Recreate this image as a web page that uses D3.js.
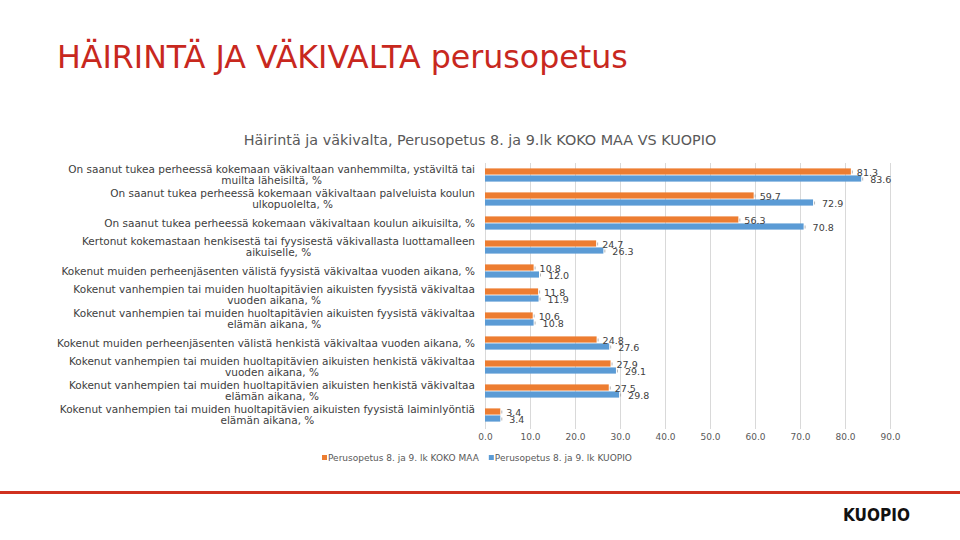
<!DOCTYPE html>
<html>
<head>
<meta charset="utf-8">
<script src="https://cdn.jsdelivr.net/npm/d3@7"></script>
<style>
  body { margin: 0; background: #fff; }
  svg { font-family: "DejaVu Sans", sans-serif; }
</style>
</head>
<body>
<div id="chart"></div>
<script>
var svgWidth = 960
var svgHeight = 540

// Category labels, split into lines as in the original
var categories = [
  ["On saanut tukea perheessä kokemaan väkivaltaan vanhemmilta, ystäviltä tai", "muilta läheisiltä, %"],
  ["On saanut tukea perheessä kokemaan väkivaltaan palveluista koulun", "ulkopuolelta, %"],
  ["On saanut tukea perheessä kokemaan väkivaltaan koulun aikuisilta, %"],
  ["Kertonut kokemastaan henkisestä tai fyysisestä väkivallasta luottamalleen", "aikuiselle, %"],
  ["Kokenut muiden perheenjäsenten välistä fyysistä väkivaltaa vuoden aikana, %"],
  ["Kokenut vanhempien tai muiden huoltapitävien aikuisten fyysistä väkivaltaa", "vuoden aikana, %"],
  ["Kokenut vanhempien tai muiden huoltapitävien aikuisten fyysistä väkivaltaa", "elämän aikana, %"],
  ["Kokenut muiden perheenjäsenten välistä henkistä väkivaltaa vuoden aikana, %"],
  ["Kokenut vanhempien tai muiden huoltapitävien aikuisten henkistä väkivaltaa", "vuoden aikana, %"],
  ["Kokenut vanhempien tai muiden huoltapitävien aikuisten henkistä väkivaltaa", "elämän aikana, %"],
  ["Kokenut vanhempien tai muiden huoltapitävien aikuisten fyysistä laiminlyöntiä", "elämän aikana, %"]
]

var seriesNames = ["Perusopetus 8. ja 9. lk KOKO MAA", "Perusopetus 8. ja 9. lk KUOPIO"]
var kokoMaa = [81.3, 59.7, 56.3, 24.7, 10.8, 11.8, 10.6, 24.8, 27.9, 27.5, 3.4]
var kuopio = [83.6, 72.9, 70.8, 26.3, 12.0, 11.9, 10.8, 27.6, 29.1, 29.8, 3.4]
var xTicks = [0, 10, 20, 30, 40, 50, 60, 70, 80, 90]

var colors = ["#ED7D31", "#5B9BD5"]

// Plot area
var margin = { top: 163, left: 485, right: 70, bottom: 113 }

var svg = d3.select("#chart")
    .append("svg")
    .attr("width", svgWidth)
    .attr("height", svgHeight)

// shrink / grow a text so it spans a given width
function fitWidth(sel, width) {
    var fs = +sel.attr("font-size")
    var w = sel.node().getComputedTextLength()
    sel.attr("font-size", fs * width / w)
}

// Slide title
var title = svg.append("text")
    .attr("x", 57)
    .attr("y", 68)
    .attr("fill", "#C8281E")
    .attr("font-size", 27)
    .text("HÄIRINTÄ JA VÄKIVALTA perusopetus")
fitWidth(title, 571)

// Chart title
var chartTitle = svg.append("text")
    .attr("x", 480)
    .attr("y", 145)
    .attr("text-anchor", "middle")
    .attr("fill", "#595959")
    .attr("font-size", 12)
    .text("Häirintä ja väkivalta, Perusopetus 8. ja 9.lk KOKO MAA VS KUOPIO")
fitWidth(chartTitle, 473)

var chartGroup = svg.append("g")
    .attr("transform", `translate(${margin.left}, ${margin.top})`)

var xScale = d3.scaleLinear()
    .domain([0, 90])
    .range([0, 405])

var yScale = d3.scaleBand()
    .domain(d3.range(categories.length))
    .range([0, 264])
    .paddingInner(0.45)
    .paddingOuter(0.225)

var ySub = d3.scaleBand()
    .domain([0, 1])
    .range([0, yScale.bandwidth()])
    .paddingInner(0.12)

// Gridlines
chartGroup.selectAll(".grid")
    .data(xTicks)
    .enter()
    .append("line")
    .attr("x1", d => xScale(d) + 0.5)
    .attr("x2", d => xScale(d) + 0.5)
    .attr("y1", 0)
    .attr("y2", 266)
    .attr("stroke", "#D9D9D9")
    .attr("stroke-width", 1)

// X axis tick labels
var xAxis = chartGroup.append("g")
    .attr("transform", "translate(0,266)")
    .call(d3.axisBottom(xScale).tickValues(xTicks).tickFormat(d3.format(".1f")).tickSize(0).tickPadding(5))
xAxis.select(".domain").remove()
xAxis.attr("font-family", null)
xAxis.selectAll("text")
    .attr("fill", "#595959")
    .attr("font-size", 9)

var rows = []
categories.forEach(function(c, i) {
    rows.push({ cat: i, s: 0, value: kokoMaa[i] })
    rows.push({ cat: i, s: 1, value: kuopio[i] })
})

// Bars
chartGroup.selectAll(".bar")
    .data(rows)
    .enter()
    .append("rect")
    .attr("x", 0)
    .attr("y", d => yScale(d.cat) + ySub(d.s))
    .attr("width", d => xScale(d.value))
    .attr("height", ySub.bandwidth())
    .attr("fill", d => colors[d.s])

// Small leader marks at bar ends
chartGroup.selectAll(".leader")
    .data(rows)
    .enter()
    .append("line")
    .attr("x1", d => xScale(d.value) + 1.5)
    .attr("x2", d => xScale(d.value) + 1.5)
    .attr("y1", d => yScale(d.cat) + ySub(d.s) + ySub.bandwidth() / 2 - 1)
    .attr("y2", d => yScale(d.cat) + ySub(d.s) + ySub.bandwidth() / 2 + 2)
    .attr("stroke", "#A6A6A6")
    .attr("stroke-width", 0.8)

// Data labels
chartGroup.selectAll(".dlabel")
    .data(rows)
    .enter()
    .append("text")
    .attr("x", d => xScale(d.value) + (d.s === 0 ? 6 : 9))
    .attr("y", d => yScale(d.cat) + ySub(d.s) + ySub.bandwidth() / 2 + 1)
    .attr("dy", "0.35em")
    .attr("fill", "#404040")
    .attr("font-size", 9.5)
    .text(d => d.value.toFixed(1))

// Category labels: block right-aligned, lines centered inside
var lineH = 11
categories.forEach(function(lines, i) {
    var cy = margin.top + yScale(i) + yScale.bandwidth() / 2
    var g = svg.append("g")
    var texts = lines.map(function(l, j) {
        return g.append("text")
            .attr("y", cy + (j - (lines.length - 1) / 2) * lineH)
            .attr("dy", "0.35em")
            .attr("fill", "#404040")
            .attr("font-size", 10.5)
            .attr("text-anchor", "middle")
            .text(l)
    })
    var w = d3.max(texts, t => t.node().getComputedTextLength())
    texts.forEach(t => t.attr("x", 475 - w / 2))
})

// Legend
var legend = svg.append("g").attr("transform", "translate(322, 458)")
var lx = 0
seriesNames.forEach(function(name, i) {
    legend.append("rect")
        .attr("x", lx)
        .attr("y", -3)
        .attr("width", 5)
        .attr("height", 5)
        .attr("fill", colors[i])
    var t = legend.append("text")
        .attr("x", lx + 6)
        .attr("y", 0)
        .attr("dy", "0.35em")
        .attr("fill", "#595959")
        .attr("font-size", 9)
        .text(name)
    lx += 6 + t.node().getComputedTextLength() + 10
})

// Footer line and logo
svg.append("rect")
    .attr("x", 0)
    .attr("y", 491)
    .attr("width", svgWidth)
    .attr("height", 3)
    .attr("fill", "#D0311F")

var logo = svg.append("text")
    .attr("x", 843)
    .attr("y", 521)
    .attr("font-family", "'DejaVu Sans Condensed', sans-serif")
    .attr("font-weight", "bold")
    .attr("font-size", 19)
    .attr("fill", "#111")
    .text("KUOPIO")
fitWidth(logo, 67)
</script>
</body>
</html>
